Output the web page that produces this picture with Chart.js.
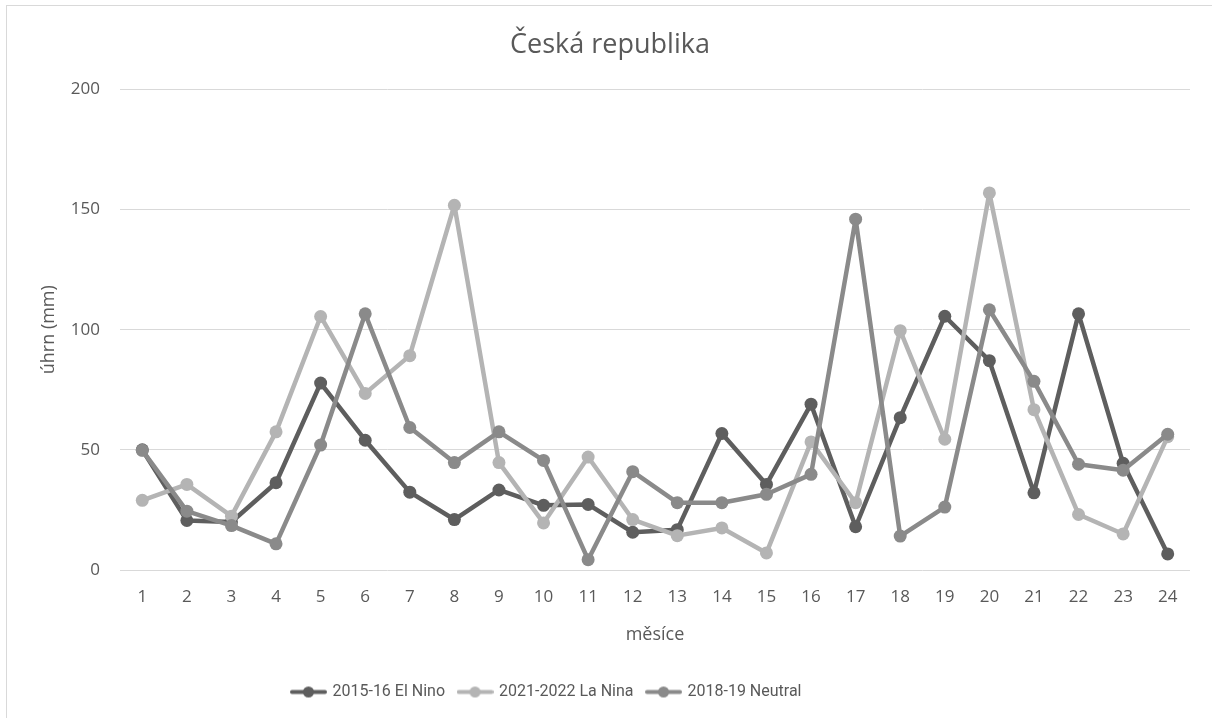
<!DOCTYPE html>
<html>
<head>
<meta charset="utf-8">
<script src="https://cdn.jsdelivr.net/npm/chart.js@4"></script>
<style>
  html, body { margin: 0; padding: 0; background: #fff; overflow: hidden; }
  #wrap { position: absolute; left: 0; top: 0; width: 1212px; height: 718px; }
  #frame { position: absolute; left: 6px; top: 5px; width: 1300px; height: 800px;
           border-left: 1px solid #d9d9d9; border-top: 1px solid #d9d9d9; pointer-events: none; }
</style>
</head>
<body>
<div id="wrap"><canvas id="rainChart" width="1212" height="718"></canvas></div>
<div id="frame"></div>
<script>
const months = ['1','2','3','4','5','6','7','8','9','10','11','12','13','14','15','16','17','18','19','20','21','22','23','24'];
const elNino = [50, 20.6, 20, 36.3, 77.8, 54, 32.4, 21, 33.3, 26.9, 27.3, 15.7, 16.8, 56.8, 35.6, 69, 18, 63.4, 105.6, 87.1, 32.1, 106.6, 44.4, 6.7];
const laNina = [29, 35.6, 22.4, 57.5, 105.5, 73.5, 89.2, 151.8, 44.7, 19.6, 47, 21, 14.3, 17.5, 7.1, 53.3, 28, 99.6, 54.4, 156.9, 66.7, 23.1, 15, 55.5];
const neutral = [49.8, 24.5, 18.5, 10.9, 52, 106.6, 59.3, 44.7, 57.5, 45.6, 4.3, 40.9, 28, 28, 31.5, 39.8, 146, 14.1, 26.2, 108.3, 78.5, 44, 41.5, 56.5];
const yTicks = [0, 50, 100, 150, 200];

const textColor = '#595959';
const font = "'Open Sans', 'Noto Sans', sans-serif";
const narrowFont = "'Roboto', sans-serif";

// small line+dot marker for the legend
function legendMarker(color) {
    const c = document.createElement('canvas');
    c.width = 37;
    c.height = 13;
    const g = c.getContext('2d');
    g.strokeStyle = color;
    g.lineWidth = 4;
    g.lineCap = 'round';
    g.beginPath();
    g.moveTo(2, 6.5);
    g.lineTo(35, 6.5);
    g.stroke();
    g.fillStyle = color;
    g.beginPath();
    g.arc(18.5, 6.5, 5.5, 0, Math.PI * 2);
    g.fill();
    return c;
}

function series(label, data, color, order) {
    return {
        label: label,
        data: data,
        borderColor: color,
        backgroundColor: color,
        pointBackgroundColor: color,
        pointBorderWidth: 0,
        pointRadius: 6.5,
        borderWidth: 4.5,
        borderJoinStyle: 'round',
        borderCapStyle: 'round',
        tension: 0,
        order: order
    };
}

// legend sits left of centre in the original
const shiftLegend = {
    id: 'shiftLegend',
    afterLayout(chart) {
        if (chart.legend) {
            chart.legend.left -= 63;
            chart.legend.right -= 63;
        }
    }
};

document.addEventListener('DOMContentLoaded', function() {
    const ctx = document.getElementById('rainChart').getContext('2d');

    new Chart(ctx, {
        type: 'line',
        data: {
            labels: months,
            datasets: [
                series('2015-16 El Nino', elNino, '#5e5e5e', 3),
                series('2021-2022 La Nina', laNina, '#b4b4b4', 2),
                series('2018-19 Neutral', neutral, '#8a8a8a', 1)
            ]
        },
        plugins: [shiftLegend],
        options: {
            responsive: false,
            animation: false,
            layout: {
                padding: { left: 30, right: 22, top: 0, bottom: 8 }
            },
            scales: {
                x: {
                    offset: true,
                    grid: { display: false, drawTicks: false },
                    border: { display: false },
                    ticks: {
                        color: textColor,
                        padding: 17,
                        font: { family: font, size: 17 },
                        maxRotation: 0
                    },
                    title: {
                        display: true,
                        text: 'měsíce',
                        color: textColor,
                        font: { family: font, size: 18 },
                        padding: { top: 0, bottom: 24 }
                    }
                },
                y: {
                    min: 0,
                    max: 200,
                    afterBuildTicks: function(scale) {
                        scale.ticks = yTicks.map(v => ({ value: v }));
                    },
                    afterFit: function(scale) {
                        scale.width = 90;
                    },
                    grid: { color: '#d9d9d9', lineWidth: 1, drawTicks: false },
                    border: { display: false },
                    ticks: {
                        color: textColor,
                        padding: 20,
                        font: { family: font, size: 17 }
                    },
                    title: {
                        display: true,
                        text: 'úhrn (mm)',
                        color: textColor,
                        font: { family: font, size: 18 },
                        padding: { top: 8, bottom: 0 }
                    }
                }
            },
            plugins: {
                title: {
                    display: true,
                    text: 'Česká republika',
                    color: textColor,
                    font: { family: font, size: 27, weight: 'normal' },
                    padding: { top: 29, bottom: 28 }
                },
                legend: {
                    position: 'bottom',
                    labels: {
                        color: textColor,
                        font: { family: narrowFont, size: 16 },
                        usePointStyle: true,
                        pointStyleWidth: 32,
                        padding: 14,
                        generateLabels: function(chart) {
                            return chart.data.datasets.map((ds, i) => ({
                                text: ds.label,
                                fillStyle: ds.borderColor,
                                strokeStyle: ds.borderColor,
                                fontColor: textColor,
                                lineWidth: 0,
                                pointStyle: legendMarker(ds.borderColor),
                                hidden: !chart.isDatasetVisible(i),
                                datasetIndex: i
                            }));
                        }
                    }
                },
                tooltip: { enabled: false }
            }
        }
    });
});
</script>
</body>
</html>
